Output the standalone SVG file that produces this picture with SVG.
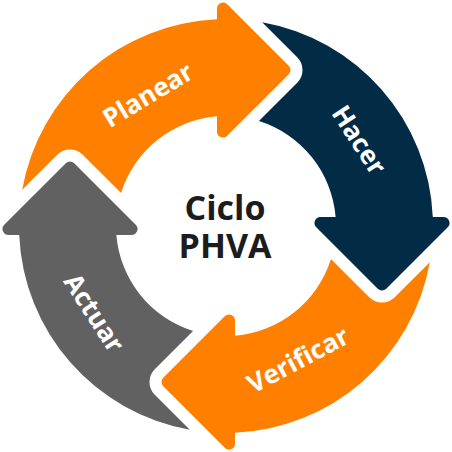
<svg xmlns="http://www.w3.org/2000/svg" xmlns:xlink="http://www.w3.org/1999/xlink" width="452" height="452" viewBox="0 0 452 452">
  <style>
    .lbl { font-family: "Open Sans", "Noto Sans", "DejaVu Sans", sans-serif; font-weight: 700; font-size: 26px; fill: #ffffff; text-anchor: middle; }
    .title { font-family: "Open Sans", "Noto Sans", "DejaVu Sans", sans-serif; font-weight: 700; font-size: 34px; fill: #1c1c1c; text-anchor: middle; }
    .orange { fill: #ff8000; }
    .navy { fill: #022b45; }
    .gray { fill: #616161; }
  </style>
  <defs>
    <path id="arrow" d="M 22.2 189.8 A 207 207 0 0 1 217 19.2 L 217 8.49 A 6 6 0 0 1 227.25 4.25 L 288.76 65.76 A 6 6 0 0 1 288.76 74.24 L 227.25 135.75 A 6 6 0 0 1 217 131.51 L 217 116.37 A 110 110 0 0 0 121.05 193.05 L 82.73 154.76 A 18 18 0 0 0 57.27 154.76 Z"/>
  </defs>
  <rect width="452" height="452" fill="#ffffff"/>
  <g id="connectors"/>
  <g id="planear">
    <use xlink:href="#arrow" href="#arrow" class="orange"/>
    <text class="lbl" transform="translate(148 95) rotate(-31)" y="9">Planear</text>
  </g>
  <g id="hacer">
    <use xlink:href="#arrow" href="#arrow" class="navy" transform="rotate(90 226 226)"/>
    <text class="lbl" transform="translate(359 140) rotate(57)" y="9">Hacer</text>
  </g>
  <g id="verificar">
    <use xlink:href="#arrow" href="#arrow" class="orange" transform="rotate(180 226 226)"/>
    <text class="lbl" transform="translate(298 360) rotate(-28)" y="9">Verificar</text>
  </g>
  <g id="actuar">
    <use xlink:href="#arrow" href="#arrow" class="gray" transform="rotate(270 226 226)"/>
    <text class="lbl" transform="translate(94 313) rotate(57)" y="9">Actuar</text>
  </g>
  <g id="ciclo-phva">
    <text class="title" x="225" y="220">Ciclo<tspan x="225" y="258">PHVA</tspan></text>
  </g>
</svg>
